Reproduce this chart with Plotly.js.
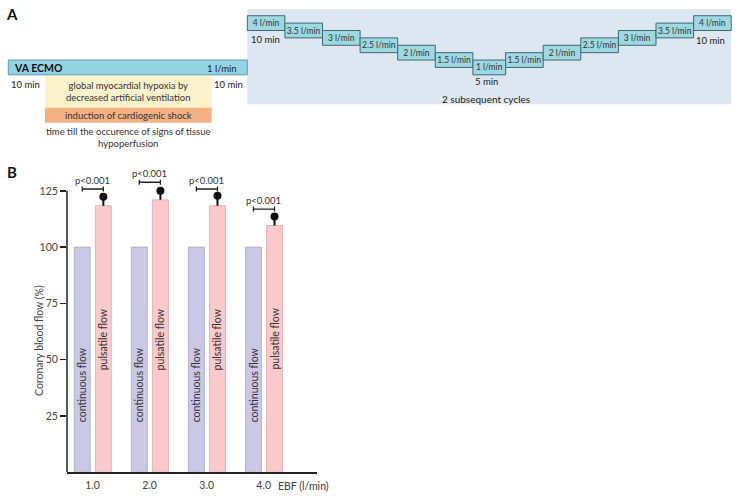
<!DOCTYPE html>
<html>
<head>
<meta charset="utf-8">
<script src="https://cdn.plot.ly/plotly-3.0.1.min.js"></script>
<style>html,body{margin:0;padding:0;background:#fff;}#chart{width:741px;height:501px;}</style>
</head>
<body>
<div id="chart"></div>
<script>
// ---------- DATA ----------
// Panel B
var ebfValues = [1, 2, 3, 4];
var ebfLabels = ['1.0', '2.0', '3.0', '4.0'];
var continuousFlow = [100, 100, 100, 100];
var pulsatileFlow = [118.4, 121.0, 118.4, 109.6];
var pulsatileErr = [4.0, 4.0, 4.4, 4.0];
var bracketLevel = [125.8, 128.8, 125.8, 116.9];
var pLabels = ['p<0.001', 'p<0.001', 'p<0.001', 'p<0.001'];
var yTicks = [25, 50, 75, 100, 125];

// Panel A protocol
var stepFlows = [4, 3.5, 3, 2.5, 2, 1.5, 1, 1.5, 2, 2.5, 3, 3.5, 4];
var stepWidths = [1, 1, 1, 1, 1, 1, 0.87, 1, 1, 1, 1, 1, 1];
var stepLabels = ['4 l/min', '3.5 l/min', '3 l/min', '2.5 l/min', '2 l/min', '1.5 l/min', '1 l/min',
                  '1.5 l/min', '2 l/min', '2.5 l/min', '3 l/min', '3.5 l/min', '4 l/min'];
var ecmoFlow = [1];
var ecmoSpan = [-6.356, 0.0];

// ---------- helpers ----------
var W = 741, H = 501;
function px(x) { return x / W; }
function py(y) { return 1 - y / H; }
var FONT = 'Lato, "Open Sans", sans-serif';

var stepCenters = [], acc = 0;
for (var i = 0; i < stepWidths.length; i++) { stepCenters.push(acc + stepWidths[i] / 2); acc += stepWidths[i]; }
var stepBase = stepFlows.map(function (f) { return f - 0.5; });
var stepHeight = stepFlows.map(function () { return 1; });

var contOffset = -0.32, pulsOffset = 0.05, barW = 0.28;
var contCenter = contOffset + barW / 2, pulsCenter = pulsOffset + barW / 2;

var traces = [
  {
    type: 'bar', x: ebfValues, y: continuousFlow, offset: contOffset, width: barW,
    marker: { color: '#cac8e4', line: { color: '#aaa7c8', width: 0.8 } },
    xaxis: 'x', yaxis: 'y', hoverinfo: 'skip', showlegend: false
  },
  {
    type: 'bar', x: ebfValues, y: pulsatileFlow, offset: pulsOffset, width: barW,
    marker: { color: '#f9c9cb', line: { color: '#ddaaad', width: 0.8 } },
    error_y: { type: 'data', symmetric: false, array: pulsatileErr,
               arrayminus: pulsatileErr.map(function () { return 0; }),
               width: 0, thickness: 2, color: '#111' },
    xaxis: 'x', yaxis: 'y', hoverinfo: 'skip', showlegend: false
  },
  {
    type: 'scatter', mode: 'markers',
    x: ebfValues.map(function (v) { return v + pulsCenter; }),
    y: pulsatileFlow.map(function (v, i) { return v + pulsatileErr[i]; }),
    marker: { symbol: 'circle', size: 8, color: '#111' },
    xaxis: 'x', yaxis: 'y', hoverinfo: 'skip', showlegend: false, cliponaxis: false
  },
  {
    type: 'bar', x: [(ecmoSpan[0] + ecmoSpan[1]) / 2], width: [ecmoSpan[1] - ecmoSpan[0]],
    base: ecmoFlow.map(function (f) { return f - 0.5; }), y: [1],
    marker: { color: '#93d4e3', line: { color: '#5f9aa6', width: 1 } },
    xaxis: 'x2', yaxis: 'y2', hoverinfo: 'skip', showlegend: false
  },
  {
    type: 'bar', x: stepCenters, width: stepWidths, base: stepBase, y: stepHeight,
    text: stepLabels, textposition: 'inside', insidetextanchor: 'middle', constraintext: 'none',
    textangle: 0, textfont: { family: FONT, size: 8.5, color: '#333' },
    marker: { color: '#9ed8e1', line: { color: '#3f6870', width: 1 } },
    xaxis: 'x2', yaxis: 'y2', hoverinfo: 'skip', showlegend: false
  }
];

var shapes = [];
var annotations = [];

shapes.push({ type: 'rect', xref: 'paper', yref: 'paper', x0: px(247.3), x1: px(731), y0: py(104.3), y1: py(9),
              fillcolor: '#dde7f2', line: { width: 0 }, layer: 'below' });
shapes.push({ type: 'rect', xref: 'paper', yref: 'paper', x0: px(45), x1: px(211.7), y0: py(107.7), y1: py(75.7),
              fillcolor: '#fef2cd', line: { width: 0 }, layer: 'below' });
shapes.push({ type: 'rect', xref: 'paper', yref: 'paper', x0: px(45), x1: px(211.7), y0: py(122.7), y1: py(107.7),
              fillcolor: '#f4b183', line: { width: 0 }, layer: 'below' });

shapes.push({ type: 'line', xref: 'x domain', yref: 'y', x0: 0, x1: 0, y0: 0, y1: 125,
              line: { color: '#222', width: 1.5 } });

for (var g = 0; g < ebfValues.length; g++) {
  var xa = ebfValues[g] + contCenter, xb = ebfValues[g] + pulsCenter, lv = bracketLevel[g];
  shapes.push({ type: 'line', xref: 'x', yref: 'y', x0: xa, x1: xb, y0: lv, y1: lv, line: { color: '#222', width: 1.3 } });
  shapes.push({ type: 'line', xref: 'x', yref: 'y', x0: xa, x1: xa, y0: lv - 1.1, y1: lv + 1.1, line: { color: '#222', width: 1.3 } });
  shapes.push({ type: 'line', xref: 'x', yref: 'y', x0: xb, x1: xb, y0: lv - 1.1, y1: lv + 1.1, line: { color: '#222', width: 1.3 } });
  annotations.push({ xref: 'x', yref: 'y', x: (xa + xb) / 2, y: lv + 3.7, text: pLabels[g], showarrow: false,
                     font: { family: FONT, size: 9.5, color: '#333' }, xanchor: 'center', yanchor: 'middle' });
  annotations.push({ xref: 'x', yref: 'y', x: ebfValues[g] + contCenter, y: 38.8, text: 'continuous flow', textangle: -90,
                     showarrow: false, font: { family: FONT, size: 10.5, color: '#333' } });
  annotations.push({ xref: 'x', yref: 'y', x: ebfValues[g] + pulsCenter, y: 59.2, text: 'pulsatile flow', textangle: -90,
                     showarrow: false, font: { family: FONT, size: 10.5, color: '#333' } });
}

function txt(x, y, t, size, opts) {
  var a = { xref: 'paper', yref: 'paper', x: px(x), y: py(y), text: t, showarrow: false,
            font: { family: FONT, size: size, color: '#222' }, xanchor: 'center', yanchor: 'middle' };
  if (opts) for (var k in opts) a[k] = opts[k];
  annotations.push(a);
}
txt(12, 14, '<b>A</b>', 15, { font: { family: FONT, size: 15, color: '#111' } });
txt(12, 172, '<b>B</b>', 15, { font: { family: FONT, size: 15, color: '#111' } });
txt(12, 68.5, '<b>VA ECMO</b>', 10.5, { xanchor: 'left', font: { family: FONT, size: 10.5, color: '#111' } });
txt(239, 68.5, '1 l/min', 9.5, { xanchor: 'right' });
txt(25, 84, '10 min', 9.5);
txt(229, 84, '10 min', 9.5);
txt(128, 91.5, 'global myocardial hypoxia by<br>decreased artificial ventilation', 9.5, { font: { family: FONT, size: 9.5, color: '#333' } });
txt(128, 115.3, 'induction of cardiogenic shock', 9.5, { font: { family: FONT, size: 9.5, color: '#333' } });
txt(128, 137, 'time till the occurence of signs of tissue<br>hypoperfusion', 9.5, { font: { family: FONT, size: 9.5, color: '#333' } });
txt(265.7, 39, '10 min', 9.5);
txt(486.7, 81, '5 min', 9.5);
txt(710, 41, '10 min', 9.5);
txt(486, 99, '2 subsequent cycles', 10);
txt(39, 341, 'Coronary blood flow (%)', 10.5, { textangle: -90, font: { family: FONT, size: 10.5, color: '#444' } });
txt(303, 486, 'EBF (l/min)', 10.5, { font: { family: FONT, size: 10.5, color: '#444' } });

var layout = {
  width: W, height: H,
  margin: { l: 0, r: 0, t: 0, b: 0 },
  paper_bgcolor: '#ffffff', plot_bgcolor: 'rgba(0,0,0,0)',
  showlegend: false,
  barmode: 'overlay',
  font: { family: FONT, color: '#444' },
  xaxis: {
    domain: [px(67), px(317)], range: [0.553, 4.934],
    tickvals: ebfValues, ticktext: ebfLabels, ticks: '', ticklabelstandoff: 3,
    showline: true, linecolor: '#222', linewidth: 1.5, showgrid: false, zeroline: false,
    tickfont: { family: FONT, size: 10.5, color: '#444' }, fixedrange: true
  },
  yaxis: {
    domain: [py(472.3), py(168.3)], range: [0, 135],
    tickvals: yTicks, ticks: 'outside', ticklen: 6, tickwidth: 1.5, tickcolor: '#222',
    showline: false, showgrid: false, zeroline: false,
    tickfont: { family: FONT, size: 10.5, color: '#444' }, fixedrange: true
  },
  xaxis2: {
    domain: [0, 1], range: [-247.3 / 37.6, (741 - 247.3) / 37.6], anchor: 'y2',
    visible: false, fixedrange: true
  },
  yaxis2: {
    domain: [py(150), 1], range: [-4.59, 5.565], anchor: 'x2',
    visible: false, fixedrange: true
  },
  shapes: shapes,
  annotations: annotations
};

Plotly.newPlot('chart', traces, layout, { displayModeBar: false, staticPlot: true });
</script>
</body>
</html>
